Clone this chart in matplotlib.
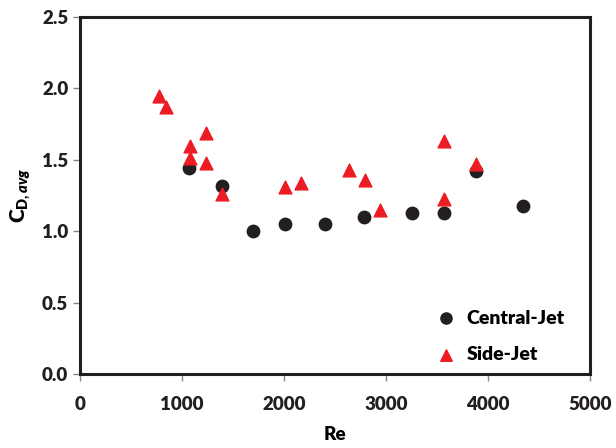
import matplotlib
matplotlib.use('Agg')
import matplotlib.pyplot as plt

# Central-Jet
re_central = [1070, 1390, 1700, 2010, 2400, 2785, 3255, 3570, 3880, 4340]
cd_central = [1.44, 1.32, 1.00, 1.05, 1.05, 1.10, 1.13, 1.13, 1.42, 1.18]

# Side-Jet
re_side = [770, 845, 1075, 1075, 1230, 1230, 1390, 2010, 2165, 2640, 2790, 2945, 3570, 3570, 3880]
cd_side = [1.95, 1.87, 1.60, 1.51, 1.685, 1.48, 1.26, 1.31, 1.335, 1.43, 1.36, 1.15, 1.63, 1.225, 1.47]

x_ticks = [0, 1000, 2000, 3000, 4000, 5000]
y_ticks = [0.0, 0.5, 1.0, 1.5, 2.0, 2.5]

plt.rcParams['font.family'] = ['Lato', 'DejaVu Sans']
plt.rcParams['font.weight'] = 'bold'
plt.rcParams['mathtext.fontset'] = 'custom'
plt.rcParams['mathtext.rm'] = 'Lato:bold'
plt.rcParams['mathtext.bf'] = 'Lato:heavy'
plt.rcParams['mathtext.it'] = 'Lato:bold:italic'
plt.rcParams['mathtext.bfit'] = 'Lato:heavy:italic'

fig = plt.figure(figsize=(6.16, 4.48), dpi=100)
ax = fig.add_axes([0.130, 0.165, 0.828, 0.797])

ax.scatter(re_central, cd_central, s=80, marker='o', color='#231f20', label='Central-Jet', zorder=3)
ax.scatter(re_side, cd_side, s=85, marker='^', color='#ed1c24', label='Side-Jet', zorder=4)

ax.set_xlim(0, 5000)
ax.set_ylim(0, 2.5)
ax.set_xticks(x_ticks)
ax.set_yticks(y_ticks)
ax.set_xticklabels([str(t) for t in x_ticks], fontweight='heavy')
ax.set_yticklabels(['%.1f' % t for t in y_ticks], fontweight='heavy')
ax.tick_params(labelsize=13.5, colors='#868686', labelcolor='#231f20', length=5, width=1, direction='out')
ax.tick_params(axis='x', pad=11)

for sp in ax.spines.values():
    sp.set_linewidth(2.2)
    sp.set_color('#231f20')

ax.set_xlabel('Re', fontsize=13.5, fontweight='heavy', labelpad=9)
ax.set_ylabel(r'$\mathbf{C}_{\mathbf{D},\mathbfit{avg}}$', fontsize=15, labelpad=7)

leg = ax.legend(loc='lower right', bbox_to_anchor=(0.985, -0.018), frameon=False,
                prop={'size': 14, 'weight': 'heavy'},
                handletextpad=0.05, labelspacing=1.0, markerscale=0.9)

fig.savefig('out.png', dpi=100)
